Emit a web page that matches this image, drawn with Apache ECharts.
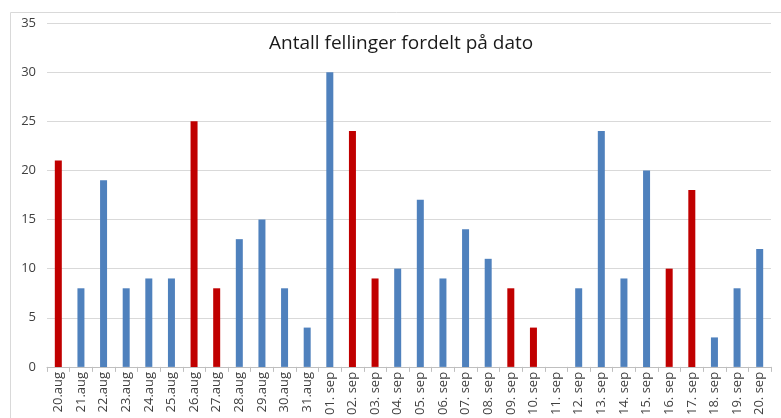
<!DOCTYPE html>
<html>
<head>
<meta charset="utf-8">
<script src="https://cdn.jsdelivr.net/npm/echarts@6/dist/echarts.min.js"></script>
<style>
  html, body { margin: 0; padding: 0; background: #fff; }
  #chart { width: 781px; height: 418px; }
</style>
</head>
<body>
<div id="chart"></div>
<script>
// datoer (kategorier)
const dates = [
  '20.aug', '21.aug', '22.aug', '23.aug', '24.aug', '25.aug', '26.aug', '27.aug',
  '28.aug', '29.aug', '30.aug', '31.aug', '01. sep', '02. sep', '03. sep', '04. sep',
  '05. sep', '06. sep', '07. sep', '08. sep', '09. sep', '10. sep', '11. sep', '12. sep',
  '13. sep', '14. sep', '15. sep', '16. sep', '17. sep', '18. sep', '19. sep', '20. sep'
]
// antall fellinger per dato
const counts = [21, 8, 19, 8, 9, 9, 25, 8, 13, 15, 8, 4, 30, 24, 9, 10,
                17, 9, 14, 11, 8, 4, 0, 8, 24, 9, 20, 10, 18, 3, 8, 12]
// datoer som er markert med rødt
const markedDates = ['20.aug', '26.aug', '27.aug', '02. sep', '03. sep', '09. sep', '10. sep', '16. sep', '17. sep']
const yTicks = [0, 5, 10, 15, 20, 25, 30, 35]

const BLUE = '#4f81bd'
const RED = '#c00000'

const chart = echarts.init(document.getElementById('chart'))
chart.setOption({
  animation: false,
  textStyle: { fontFamily: 'Open Sans, sans-serif' },
  title: {
    text: 'Antall fellinger fordelt på dato',
    left: 264,
    top: 29,
    textStyle: { fontSize: 19, fontWeight: 'normal', color: '#1a1a1a', fontFamily: 'Open Sans, sans-serif' }
  },
  graphic: [{
    type: 'rect',
    shape: { x: 10.5, y: 12.5, width: 800, height: 420 },
    style: { fill: 'none', stroke: '#d9d9d9', lineWidth: 1 },
    silent: true,
    z: -1
  }],
  grid: { left: 47, right: 10, top: 23, bottom: 49, containLabel: false },
  xAxis: {
    type: 'category',
    data: dates,
    axisLine: { lineStyle: { color: '#bfbfbf' } },
    axisTick: { show: true, length: 5, lineStyle: { color: '#bfbfbf' } },
    axisLabel: { rotate: 90, interval: 0, fontSize: 13, color: '#404040', margin: 5 }
  },
  yAxis: {
    type: 'value',
    min: yTicks[0],
    max: yTicks[yTicks.length - 1],
    interval: 5,
    axisLine: { show: false },
    axisTick: { show: false },
    axisLabel: { fontSize: 13, color: '#404040', margin: 11 },
    splitLine: { lineStyle: { color: '#d9d9d9' } }
  },
  series: [{
    type: 'bar',
    barWidth: 7,
    data: counts.map((v, i) => ({
      value: v,
      itemStyle: { color: markedDates.includes(dates[i]) ? RED : BLUE }
    }))
  }]
})
</script>
</body>
</html>
